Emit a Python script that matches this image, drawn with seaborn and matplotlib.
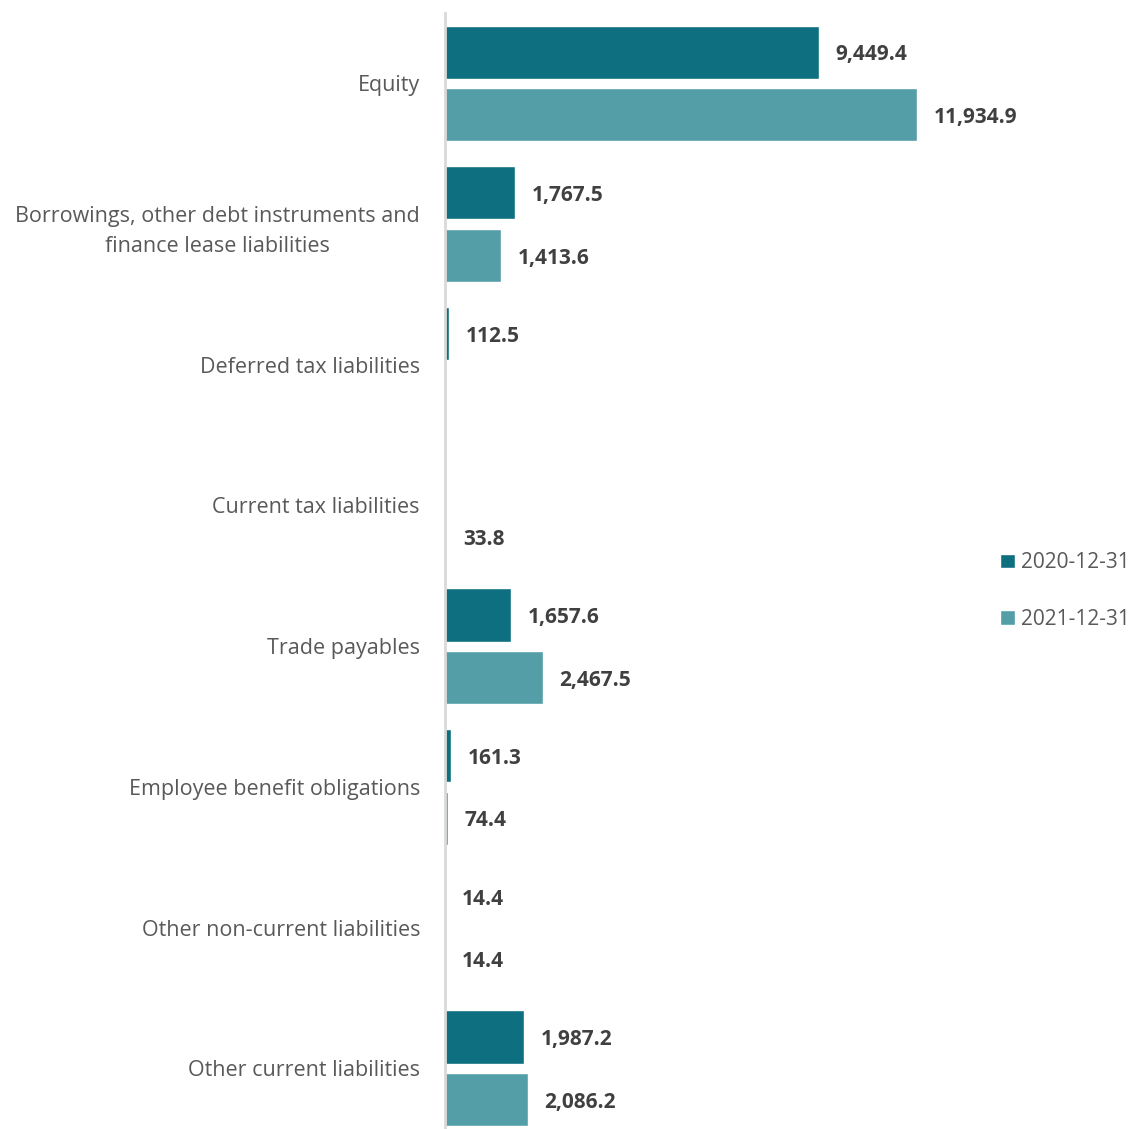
import matplotlib
matplotlib.use("Agg")
import matplotlib.pyplot as plt
import seaborn as sns
import pandas as pd
import numpy as np

categories = [
    "Equity",
    "Borrowings, other debt instruments and\nfinance lease liabilities",
    "Deferred tax liabilities",
    "Current tax liabilities",
    "Trade payables",
    "Employee benefit obligations",
    "Other non-current liabilities",
    "Other current liabilities",
]
series = ["2020-12-31", "2021-12-31"]
values_2020 = [9449.4, 1767.5, 112.5, np.nan, 1657.6, 161.3, 14.4, 1987.2]
values_2021 = [11934.9, 1413.6, np.nan, 33.8, 2467.5, 74.4, 14.4, 2086.2]
colors = ["#0e6f80", "#549ea8"]

df = pd.DataFrame({
    "category": categories * 2,
    "date": [series[0]] * len(categories) + [series[1]] * len(categories),
    "value": values_2020 + values_2021,
}).dropna()

sns.set_style("white")
plt.rcParams["font.family"] = ["Open Sans", "DejaVu Sans"]

fig = plt.figure(figsize=(11.37, 11.29), dpi=100)
ax = fig.add_axes([445 / 1137, -0.0086, 540 / 1137, 1 - 13 / 1129 + 0.0086])

sns.barplot(data=df, y="category", x="value", hue="date", order=categories,
            hue_order=series, palette=colors, orient="h", width=0.889, gap=0.15,
            saturation=1, ax=ax, legend=True)

# value labels next to each bar end
for bar in ax.patches:
    w = bar.get_width()
    if np.isnan(w) or bar.get_height() == 0:
        continue
    yc = bar.get_y() + bar.get_height() / 2
    ax.annotate(f"{w:,.1f}", xy=(w, yc), xytext=(12, -2), textcoords="offset points",
                va="center", ha="left", fontsize=15, fontweight="bold", color="#404040")

ax.set_xlim(0, 13640)
ax.set_xlabel("")
ax.set_ylabel("")
ax.set_xticks([])
ax.tick_params(axis="y", length=0, pad=18, labelsize=15.5, labelcolor="#595959")
for lbl in ax.get_yticklabels():
    lbl.set_multialignment("center")
    lbl.set_linespacing(1.6)
for s in ["top", "right", "bottom"]:
    ax.spines[s].set_visible(False)
ax.spines["left"].set_color("#d9d9d9")
ax.spines["left"].set_linewidth(2)

leg = ax.legend(loc="center left", bbox_to_anchor=(992 / 1137, 1 - 591 / 1129),
                bbox_transform=fig.transFigure, frameon=False, fontsize=15,
                handlelength=0.7, handleheight=0.7, handletextpad=0.3,
                labelspacing=1.7, labelcolor="#595959", borderaxespad=0)

fig.savefig("out.png", dpi=100)
